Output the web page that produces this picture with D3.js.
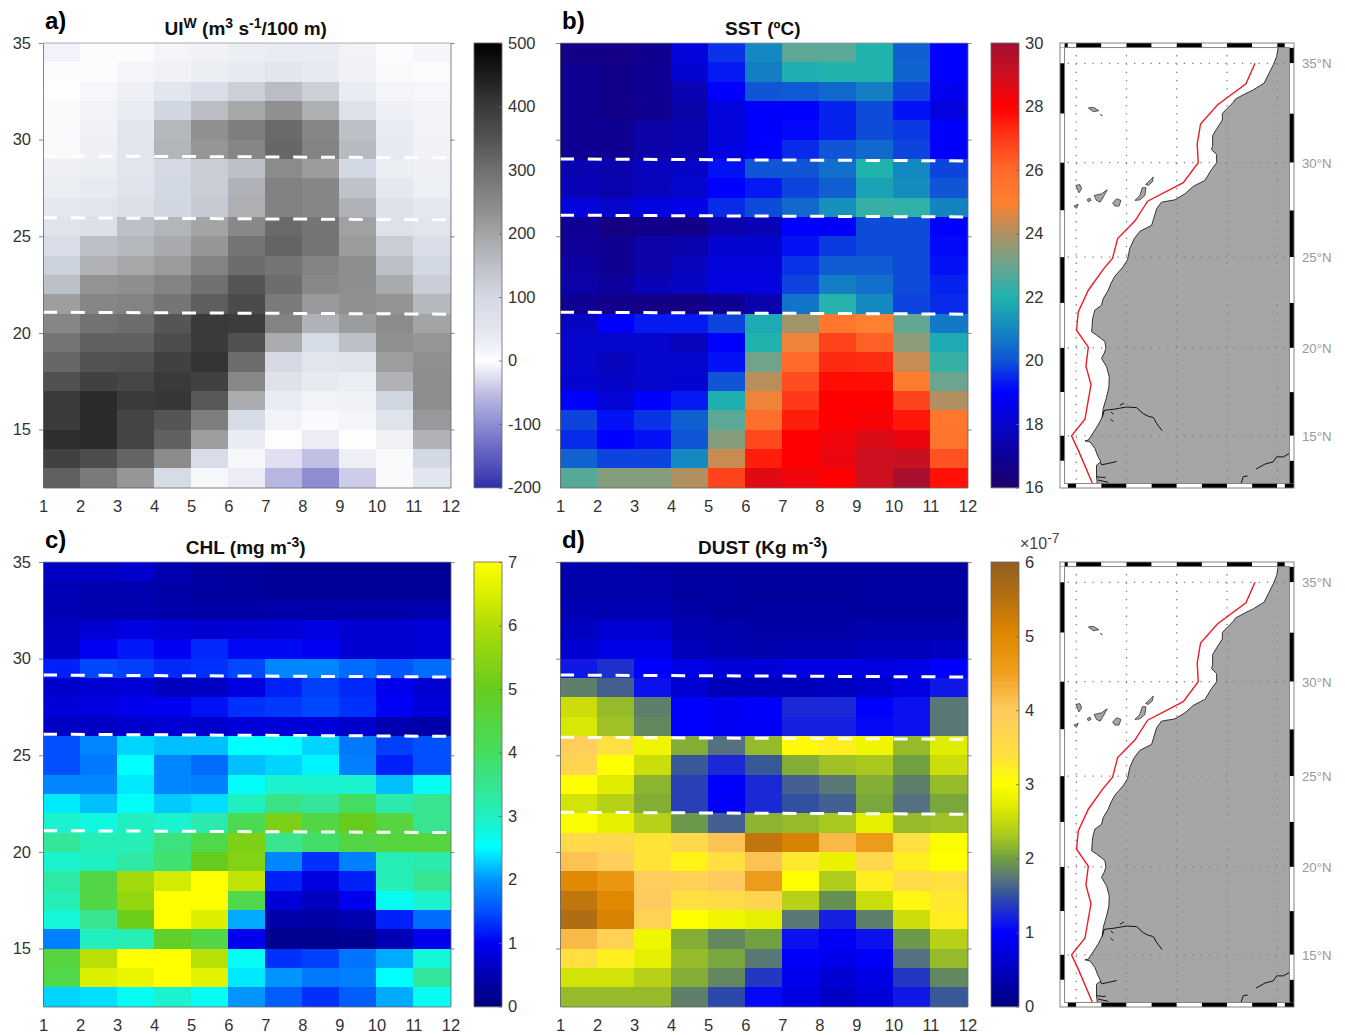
<!DOCTYPE html>
<html>
<head>
<meta charset="utf-8">
<title>Upwelling, SST, CHL and dust</title>
<script src="https://cdn.jsdelivr.net/npm/d3@7"></script>
<style>
  html, body { margin: 0; padding: 0; background: #fff; }
  svg { display: block; font-family: "Liberation Sans", Arial, sans-serif; }
  .axis text { font-size: 16.5px; fill: #333; }
  .axis path, .axis line { stroke: #666; stroke-width: 0.8; }
  .title { font-size: 19px; font-weight: bold; fill: #111; }
  .letter { font-size: 24px; font-weight: bold; fill: #000; }
</style>
</head>
<body>
<svg id="chart" width="1345" height="1035"></svg>
<script>
// months on the x axis (cell edges) and latitudes on the y axis (cell edges)
var months = [1, 2, 3, 4, 5, 6, 7, 8, 9, 10, 11, 12];
var lats = [35, 34, 33, 32, 31, 30, 29, 28, 27, 26, 25, 24, 23, 22, 21, 20, 19, 18, 17, 16, 15, 14, 13, 12];
var latTicks = [35, 30, 25, 20, 15];

// one row per degree, north to south
var uiw = [
  [-10, 5, 5, 15, 20, 30, 35, 35, 18, 5, -8],
  [5, 5, 15, 20, 30, 40, 50, 40, 20, 8, 5],
  [3, 12, 25, 50, 85, 120, 155, 120, 35, 15, 12],
  [8, 18, 35, 105, 155, 195, 235, 180, 70, 25, 18],
  [8, 20, 50, 165, 235, 270, 310, 255, 150, 35, 18],
  [10, 25, 55, 170, 225, 255, 315, 260, 160, 40, 20],
  [25, 30, 55, 95, 125, 150, 245, 215, 100, 30, 25],
  [30, 40, 60, 100, 125, 175, 265, 255, 145, 45, 28],
  [45, 55, 75, 105, 130, 180, 265, 255, 175, 65, 45],
  [60, 75, 150, 170, 200, 250, 310, 290, 205, 70, 55],
  [85, 150, 165, 190, 225, 290, 320, 290, 215, 125, 80],
  [115, 175, 195, 215, 260, 305, 290, 260, 240, 150, 100],
  [150, 230, 240, 260, 300, 345, 305, 250, 240, 190, 125],
  [210, 255, 260, 290, 330, 365, 280, 220, 235, 230, 165],
  [255, 295, 305, 345, 400, 395, 260, 175, 215, 245, 200],
  [290, 325, 325, 360, 400, 355, 185, 90, 150, 235, 225],
  [315, 350, 355, 385, 410, 305, 95, 55, 60, 210, 235],
  [355, 385, 375, 400, 385, 250, 65, 40, 30, 175, 240],
  [400, 425, 400, 405, 340, 185, 35, 18, 20, 105, 240],
  [400, 425, 380, 345, 270, 90, 18, 8, 15, 60, 220],
  [420, 425, 380, 325, 210, 35, 3, -15, 2, 20, 175],
  [385, 360, 320, 245, 85, 12, -25, -50, -13, 8, 100],
  [325, 280, 225, 90, 12, -15, -60, -100, -40, -4, 50]
];
var sst = [
  [16.6, 16.6, 16.8, 18.3, 19.6, 21, 22.8, 22.8, 22, 20.2, 19],
  [16.9, 16.7, 16.9, 18.1, 19.3, 20.8, 21.9, 22, 22, 20.3, 19],
  [16.9, 16.7, 16.9, 17.5, 19, 20, 20.1, 20.4, 20.8, 19.8, 18.7],
  [16.9, 16.7, 16.8, 17.3, 18.3, 19, 19, 19.4, 19.9, 19.2, 18.4],
  [16.9, 16.9, 17.3, 17.5, 18.3, 19, 19.1, 19.4, 19.9, 19.7, 19],
  [16.9, 16.9, 17.3, 17.5, 18.4, 19, 19.5, 20, 20.4, 19.8, 18.9],
  [17.5, 17.4, 17.7, 17.9, 19.2, 20, 20, 20.5, 22, 21, 19.8],
  [17.6, 17.4, 17.7, 18, 19, 19.3, 19.8, 20.2, 21.6, 21.1, 20],
  [18.3, 18, 18.4, 18.5, 19.5, 19.9, 20.4, 21.2, 22.3, 22.2, 20.9],
  [16.9, 16.5, 16.7, 16.7, 17.4, 17.6, 19, 18.9, 19.9, 19.9, 19],
  [17, 16.9, 17.3, 17.4, 18.1, 18.1, 19.2, 19.7, 19.9, 19.9, 19.1],
  [17.2, 16.9, 17.3, 17.7, 18.3, 18.3, 19.6, 20.1, 20.1, 19.9, 19.2],
  [17.3, 17.1, 17.6, 17.8, 18.4, 18.4, 19.8, 20.8, 20.5, 19.9, 19.4],
  [16.9, 16.7, 16.6, 16.6, 16.9, 17.4, 20.6, 22.1, 21, 19.8, 19.5],
  [17.8, 19, 19.3, 19.3, 19.8, 21.8, 23.8, 25.4, 25, 22.9, 20.7],
  [18, 18, 18, 17.7, 19, 22, 24.8, 26.8, 26.2, 23.5, 21.8],
  [18, 17.7, 18, 18, 19.2, 23.1, 26, 27.3, 27.2, 24.3, 22.3],
  [18.1, 17.9, 18, 18.1, 20, 24.1, 26.6, 27.8, 27.8, 25.2, 23],
  [19, 18.2, 19, 19.3, 21.9, 24.8, 27, 28, 28, 26.8, 24],
  [19.8, 19.2, 19.6, 20.2, 22.8, 25.8, 27.5, 28, 28.2, 27.6, 25.4],
  [19.5, 19, 19.2, 20, 23.4, 26.7, 28, 28.3, 28.7, 28.4, 25.5],
  [20.3, 19.8, 19.8, 21, 24.3, 27.5, 28, 28.4, 29, 29.1, 26.5],
  [22.7, 23.4, 23.4, 24, 26.8, 28.6, 28.3, 28, 29, 29.8, 27.7]
];
var chl = [
  [0.65, 0.65, 0.7, 0.5, 0.35, 0.3, 0.25, 0.25, 0.25, 0.25, 0.25],
  [0.55, 0.5, 0.5, 0.4, 0.35, 0.3, 0.25, 0.25, 0.25, 0.25, 0.25],
  [0.55, 0.5, 0.5, 0.45, 0.4, 0.4, 0.45, 0.45, 0.45, 0.45, 0.5],
  [0.6, 0.75, 0.85, 0.8, 0.75, 0.75, 0.8, 0.85, 0.75, 0.75, 0.8],
  [0.65, 1, 1.15, 1, 1.25, 1.05, 1.05, 1, 0.75, 0.75, 0.8],
  [1.2, 1.45, 1.4, 1.25, 1.3, 1.45, 1.9, 1.9, 1.7, 1.55, 1.7],
  [0.7, 0.75, 0.8, 0.6, 0.65, 0.85, 1.2, 1.4, 1.25, 0.95, 0.75],
  [0.8, 0.85, 0.95, 0.95, 1.1, 1.3, 1.35, 1.45, 1.3, 1, 0.8],
  [0.65, 0.65, 0.7, 0.75, 0.7, 0.8, 0.8, 0.8, 0.7, 0.5, 0.45],
  [1.5, 1.9, 2.3, 2.2, 2.2, 2.5, 2.5, 2.3, 1.8, 1.4, 1.5],
  [1.5, 1.8, 2.5, 1.9, 1.7, 2.2, 2.3, 2.45, 1.85, 1.2, 1.5],
  [1.9, 1.9, 2.4, 1.9, 1.85, 2.55, 2.9, 2.9, 2.9, 2.2, 2.6],
  [2.4, 2.2, 2.55, 2.25, 2.35, 3, 3.6, 3.4, 4, 3.2, 3.5],
  [2.9, 2.75, 3, 2.9, 3.2, 4.2, 5.3, 4.4, 5, 4.5, 3.5],
  [3.4, 3.1, 3.1, 3.7, 4.3, 5.3, 3.5, 3.9, 4.4, 4.5, 4.5],
  [2.9, 3, 3.3, 3.8, 5, 5.4, 1.9, 1.3, 1.85, 3.1, 3.2],
  [3.3, 4.4, 5.8, 6.4, 7, 6.2, 1.2, 0.85, 1.2, 3.1, 3.5],
  [3.1, 4.4, 5.6, 7, 7, 4.3, 0.8, 0.6, 0.95, 2.6, 2.9],
  [2.8, 3.5, 5.1, 7, 6.5, 2.1, 0.45, 0.4, 0.5, 1.2, 1.7],
  [1.85, 3, 3.1, 4.8, 4.4, 0.95, 0.15, 0.15, 0.2, 0.55, 0.95],
  [4.5, 6.1, 7, 7, 6.1, 2.6, 1.3, 1.4, 1.75, 2.1, 2.8],
  [4.3, 6.5, 6.7, 7, 6.6, 2.4, 2, 1.8, 1.85, 2.5, 3.4],
  [2.3, 2.35, 2.6, 2.9, 2.6, 2, 1.6, 1.3, 1.6, 2.1, 2.6]
];
var dust = [
  [0.35, 0.35, 0.3, 0.25, 0.25, 0.25, 0.25, 0.25, 0.25, 0.25, 0.25],
  [0.35, 0.35, 0.35, 0.25, 0.25, 0.2, 0.2, 0.2, 0.25, 0.25, 0.25],
  [0.4, 0.4, 0.4, 0.3, 0.25, 0.25, 0.25, 0.25, 0.25, 0.25, 0.25],
  [0.5, 0.65, 0.65, 0.4, 0.35, 0.3, 0.3, 0.3, 0.35, 0.35, 0.35],
  [0.65, 0.8, 0.8, 0.45, 0.4, 0.35, 0.4, 0.4, 0.45, 0.45, 0.5],
  [1.15, 1.3, 1, 0.8, 0.7, 0.7, 0.75, 0.75, 0.75, 0.8, 1],
  [1.8, 1.6, 1.1, 0.65, 0.45, 0.45, 0.45, 0.5, 0.6, 0.75, 1.15],
  [2.55, 2.2, 1.8, 1, 0.9, 1, 1.25, 1.25, 1, 1.1, 1.75],
  [2.65, 2.25, 1.85, 1, 0.9, 0.95, 1.2, 1.2, 1.05, 1.1, 1.75],
  [3.9, 3.4, 2.85, 2.1, 1.7, 2.2, 3.05, 3.2, 2.85, 2.2, 2.7],
  [3.7, 3, 2.55, 1.55, 1.25, 1.55, 2.1, 2.25, 2.3, 2, 2.55],
  [3, 2.7, 2.15, 1.4, 1, 1.25, 1.6, 1.75, 2.1, 1.8, 2.2],
  [2.6, 2.4, 2.1, 1.4, 0.95, 1.25, 1.5, 1.6, 2.05, 1.7, 2.05],
  [2.95, 2.75, 2.4, 1.95, 1.6, 2.15, 2.2, 2.3, 2.75, 2.2, 2.25],
  [3.6, 3.6, 3.35, 3.6, 4.1, 5.4, 5.1, 4.2, 4.6, 3.4, 2.95],
  [4.1, 3.9, 3.35, 3.15, 3.4, 4.1, 3.3, 2.8, 3.6, 3.2, 3],
  [5, 4.7, 3.95, 3.8, 4, 4.6, 3, 2.35, 3.2, 3.5, 3.4],
  [5.4, 5, 4, 3.4, 3.5, 3.7, 2.4, 1.9, 2.55, 3.1, 3.3],
  [5.6, 5.1, 3.8, 3, 2.85, 2.75, 1.75, 1.2, 1.8, 2.55, 3.2],
  [4.2, 3.8, 2.85, 2.1, 1.85, 2, 1.1, 0.95, 1.1, 1.95, 2.4],
  [3.4, 3.2, 2.75, 2.2, 2.05, 1.75, 0.95, 0.85, 0.95, 1.7, 2.2],
  [2.6, 2.6, 2.4, 2.1, 1.85, 1.35, 0.85, 0.65, 0.8, 1.35, 1.85],
  [2.2, 2.2, 2.2, 1.8, 1.45, 1.05, 0.75, 0.55, 0.7, 1.15, 1.55]
];

// colormaps: value stops and their colours
var uiwStops = [-200, -100, -50, 0, 20, 50, 100, 150, 200, 250, 300, 350, 400, 450, 500];
var uiwColors = ["#3030ac", "#8d8dd4", "#c0c0e4", "#ffffff", "#f0f2f6", "#e2e6ee", "#d3d9e4", "#bcc0c7", "#a3a4a6", "#888888", "#707070", "#525252", "#3a3a3a", "#1c1c1c", "#000000"];
var sstStops = [16, 17, 18, 19, 20, 21, 22, 23, 24, 25, 26, 27, 28, 29, 30];
var sstColors = ["#1c006e", "#0e0098", "#0505cc", "#0000ff", "#0f55d5", "#1488c0", "#20b3ae", "#6aa590", "#b09060", "#ff8030", "#ff6a2a", "#ff3a18", "#ff0000", "#cc1020", "#a01030"];
var chlStops = [0, 0.5, 1, 1.5, 2, 2.5, 3, 3.5, 4, 5, 6, 6.5, 7];
var chlColors = ["#00007f", "#0000b0", "#0000f5", "#0050ff", "#0095ff", "#00ffff", "#20f0c0", "#38e490", "#45dd60", "#66cc1c", "#b0dc08", "#dcef00", "#ffff00"];
var dustStops = [0, 0.5, 1, 1.2, 1.5, 1.7, 2, 2.3, 2.7, 3, 3.4, 4, 4.5, 5, 5.5, 6];
var dustColors = ["#000080", "#0000c0", "#0000ff", "#1520e0", "#3050a0", "#557080", "#70a040", "#a8c820", "#e0ec00", "#ffff00", "#ffe040", "#ffca60", "#f0a020", "#e08800", "#b87010", "#906020"];

var uiwTicks = [-200, -100, 0, 100, 200, 300, 400, 500];
var sstTicks = [16, 18, 20, 22, 24, 26, 28, 30];
var chlTicks = [0, 1, 2, 3, 4, 5, 6, 7];
var dustTicks = [0, 1, 2, 3, 4, 5, 6];

// dashed region limits, latitude at month 1 and near month 12
var uiwLimits = [[29.16, 29.06], [25.96, 25.85], [21.07, 20.97]];
var sstLimits = [[29.0, 28.9], [26.09, 26.0], [21.07, 20.97]];
var chlLimits = [[29.15, 29.05], [26.09, 25.98], [21.1, 21.0]];
var dustLimits = [[29.15, 29.05], [25.93, 25.83], [22.05, 21.95]];

// map data as [lon, lat]
var coast = [[-5.94, 36.2], [-5.94, 35.79], [-6.04, 35.33], [-6.24, 34.92], [-6.5, 34.5], [-6.78, 34.03], [-7.43, 33.69], [-7.93, 33.49], [-8.49, 33.24], [-8.63, 33.07], [-9.02, 32.73], [-9.28, 32.52], [-9.28, 32.18], [-9.62, 31.73], [-9.86, 31.39], [-9.86, 30.89], [-9.92, 30.67], [-9.62, 30.42], [-9.62, 30], [-9.92, 29.65], [-10.32, 29.08], [-11.01, 28.77], [-11.51, 28.38], [-12.11, 28.06], [-12.91, 27.94], [-13.2, 27.59], [-13.5, 26.71], [-14.2, 26.39], [-14.54, 26], [-14.8, 25.48], [-14.94, 24.86], [-15.19, 24.49], [-15.69, 23.97], [-15.93, 23.57], [-16.09, 23.2], [-16.39, 22.74], [-16.49, 22.37], [-16.89, 22.1], [-17.02, 21.64], [-17.08, 20.9], [-16.79, 20.72], [-16.29, 20.36], [-16.23, 19.98], [-16.33, 19.7], [-16.49, 19.41], [-16.19, 18.94], [-16.03, 18.37], [-16.05, 17.79], [-16.19, 17.22], [-16.39, 16.56], [-16.45, 16.08], [-16.69, 15.62], [-17.08, 15.04], [-17.28, 14.75], [-17.48, 14.71], [-17.18, 14.65], [-16.89, 14.27], [-16.69, 13.78], [-16.53, 13.49], [-16.79, 13.3], [-16.79, 12.63], [-16.73, 12.14], [-16.7, 11.5], [-4.5, 11.5], [-4.5, 36.2]];
var islands = [
  [[-17.28, 32.79], [-16.98, 32.82], [-16.65, 32.65], [-16.98, 32.6]],
  [[-13.86, 28.87], [-13.6, 29.08], [-13.4, 29.26], [-13.46, 29], [-13.7, 28.82]],
  [[-14.5, 28.03], [-14.2, 28.29], [-14.06, 28.7], [-13.84, 28.7], [-13.9, 28.29], [-14.2, 28.06]],
  [[-15.83, 27.89], [-15.59, 28.12], [-15.33, 28.03], [-15.45, 27.73], [-15.69, 27.73]],
  [[-16.93, 28.29], [-16.49, 28.38], [-16.15, 28.59], [-16.39, 28.2], [-16.57, 27.94], [-16.79, 28.03]],
  [[-17.34, 28.08], [-17.18, 28.15], [-17.12, 28.03], [-17.28, 27.96]],
  [[-18.02, 28.82], [-17.78, 28.86], [-17.68, 28.64], [-17.84, 28.43]],
  [[-18.14, 27.73], [-17.88, 27.82], [-17.98, 27.62]]
];
var rivers = [
  [[-16.45, 16.05], [-16.33, 16.46], [-15.79, 16.52], [-15, 16.65], [-14.4, 16.62], [-14, 16.27], [-13.7, 16.12], [-13.4, 16.05], [-13.2, 15.71], [-12.87, 15.29]],
  [[-15.39, 16.75], [-15.15, 16.88]],
  [[-15.93, 16.37], [-15.79, 16.24]],
  [[-15.95, 15.95], [-15.79, 15.83]],
  [[-16.57, 13.49], [-16.49, 13.32], [-16.09, 13.4], [-15.59, 13.51]],
  [[-16.79, 12.63], [-16.49, 12.59], [-16.25, 12.59]],
  [[-16.69, 12.43], [-16.09, 12.3]],
  [[-7.27, 13.07], [-6.74, 13.36], [-6.24, 13.49], [-6.04, 13.78], [-5.64, 13.78], [-5.28, 13.98]],
  [[-8.17, 12.22], [-8.03, 12.63], [-7.77, 12.67]],
  [[-16.55, 32.48], [-16.45, 32.38]]
];
var transect = [[-7.33, 35], [-7.87, 33.99], [-9.56, 32.95], [-10.58, 31.98], [-10.78, 30.97], [-10.72, 30], [-11.61, 28.96], [-13.74, 27.99], [-14.5, 26.94], [-15.53, 26], [-15.83, 24.95], [-16.39, 24.34], [-17.28, 23.2], [-17.88, 22], [-17.98, 20.99], [-17.28, 20.04], [-17.42, 18.97], [-17.12, 17.93], [-17.48, 15.95], [-18.28, 15], [-17.88, 14.17], [-16.93, 12]];
var gridLons = [-18, -15, -12, -9, -6];
var gridLats = [35, 30, 25, 20, 15];
var frameLonsTop = [-18.7, -18.5, -18, -16.5, -15, -13.5, -12, -10.5, -9, -7.5, -6, -5.55, -5];
var frameLats = [36, 35.75, 35, 32.5, 30, 27.5, 25, 22.5, 20, 17.5, 15, 13.55, 12];

var svg = d3.select("#chart");

var panels = [
  {letter: "a)", x0: 43, y0: 43, data: uiw, stops: uiwStops, colors: uiwColors, ticks: uiwTicks, limits: uiwLimits, labels: true, title: [["UI"], ["W", 1], [" (m"], ["3", 1], [" s"], ["-1", 1], ["/100 m)"]]},
  {letter: "b)", x0: 560, y0: 43, data: sst, stops: sstStops, colors: sstColors, ticks: sstTicks, limits: sstLimits, labels: false, title: [["SST (ºC)"]]},
  {letter: "c)", x0: 43, y0: 562, data: chl, stops: chlStops, colors: chlColors, ticks: chlTicks, limits: chlLimits, labels: true, title: [["CHL (mg m"], ["-3", 1], [")"]]},
  {letter: "d)", x0: 560, y0: 562, data: dust, stops: dustStops, colors: dustColors, ticks: dustTicks, limits: dustLimits, labels: false, title: [["DUST (Kg m"], ["-3", 1], [")"]]}
];

var w = 407.5, h = 444.5;

panels.forEach(drawPanel);
drawMap(43);
drawMap(562);

function drawPanel(p) {
    var g = svg.append("g").attr("transform", "translate(" + p.x0 + "," + p.y0 + ")");
    var x = d3.scaleLinear().domain([1, 12]).range([0, w]);
    var y = d3.scaleLinear().domain([35, 12]).range([0, h]);
    var color = d3.scaleLinear().domain(p.stops).range(p.colors).clamp(true);

    // cells
    p.data.forEach(function (row, r) {
        g.selectAll(".r" + r)
            .data(row)
            .enter()
            .append("rect")
            .attr("x", function (d, i) { return x(months[i]); })
            .attr("y", y(lats[r]))
            .attr("width", function (d, i) { return x(months[i + 1]) - x(months[i]); })
            .attr("height", y(lats[r + 1]) - y(lats[r]))
            .attr("shape-rendering", "crispEdges")
            .attr("fill", function (d) { return color(d); });
    });

    // dashed limits
    var limitLine = d3.line().x(function (d) { return x(d[0]); }).y(function (d) { return y(d[1]); });
    p.limits.forEach(function (l) {
        g.append("path")
            .attr("d", limitLine([[1, l[0]], [11.93, l[1]]]))
            .attr("fill", "none")
            .attr("stroke", "#fff")
            .attr("stroke-width", 3)
            .attr("stroke-dasharray", "14 13.8");
    });

    // axes
    g.append("g").attr("class", "axis")
        .attr("transform", "translate(0," + h + ")")
        .call(d3.axisBottom(x).tickValues(months).tickFormat(String).tickSize(0).tickPadding(13));
    g.append("g").attr("class", "axis")
        .call(d3.axisLeft(y).tickValues(latTicks).tickSizeOuter(0).tickSizeInner(4).tickPadding(8)
            .tickFormat(p.labels ? String : ""));
    g.append("g").attr("class", "axis")
        .attr("transform", "translate(" + w + ",0)")
        .call(d3.axisRight(y).tickValues(latTicks).tickSizeOuter(0).tickSizeInner(4).tickFormat(""));
    g.append("line").attr("x1", 0).attr("x2", w).attr("y1", 0).attr("y2", 0)
        .attr("stroke", "#999").attr("stroke-width", 0.8);

    // title
    var title = g.append("text").attr("class", "title")
        .attr("x", w / 2 - 1).attr("y", -8).attr("text-anchor", "middle");
    p.title.forEach(function (part, i) {
        var prevSup = i > 0 && p.title[i - 1][1];
        var span = title.append("tspan").text(part[0]);
        if (part[1]) span.attr("dy", -7).style("font-size", "14px");
        else if (prevSup) span.attr("dy", 7);
    });
    g.append("text").attr("class", "letter").attr("x", 2).attr("y", -14).text(p.letter);

    // colorbar
    var barX = w + 23.5, barW = 28;
    var bar = g.append("g").attr("transform", "translate(" + barX + ",0)");
    var barScale = d3.scaleLinear().domain([p.stops[0], p.stops[p.stops.length - 1]]).range([h, 0]);
    d3.range(0, h, 1).forEach(function (py) {
        bar.append("rect").attr("x", 0).attr("y", py).attr("width", barW).attr("height", 1.2)
            .attr("fill", color(barScale.invert(py + 0.5)));
    });
    bar.append("rect").attr("width", barW).attr("height", h)
        .attr("fill", "none").attr("stroke", "#666").attr("stroke-width", 0.8);
    var barAxis = bar.append("g").attr("class", "axis")
        .attr("transform", "translate(" + barW + ",0)")
        .call(d3.axisRight(barScale).tickValues(p.ticks).tickSizeOuter(0).tickSizeInner(-3).tickPadding(6).tickFormat(String));
    barAxis.select(".domain").remove();

    if (p === panels[3]) {
        var mult = bar.append("text").attr("x", barW + 1).attr("y", -13)
            .style("font-size", "16px").style("fill", "#444");
        mult.append("tspan").text("×10");
        mult.append("tspan").attr("dy", -6).style("font-size", "14px").text("-7");
    }
}

function drawMap(top) {
    var mx0 = 1060, mx1 = 1294, inset = 4.6;
    var my1 = top + 445;
    var merc = d3.geoMercator().scale(960).translate([0, 0]);
    var ref = merc([-6, 35]);
    merc.translate([1277.3 - ref[0], top + 20.3 - ref[1]]);
    var g = svg.append("g");
    var clipId = "clip" + top;
    svg.append("clipPath").attr("id", clipId).append("rect")
        .attr("x", mx0 + inset).attr("y", top + inset)
        .attr("width", mx1 - mx0 - 2 * inset).attr("height", my1 - top - 2 * inset);

    var line = d3.line().x(function (d) { return merc(d)[0]; }).y(function (d) { return merc(d)[1]; });
    var inner = g.append("g").attr("clip-path", "url(#" + clipId + ")");

    inner.append("path").attr("d", line(coast) + "Z")
        .attr("fill", "#a6a6a6").attr("stroke", "#333").attr("stroke-width", 1);
    inner.selectAll(".island").data(islands).enter().append("path")
        .attr("d", function (d) { return line(d) + "Z"; })
        .attr("fill", "#a6a6a6").attr("stroke", "#333").attr("stroke-width", 0.8);

    // dotted graticule
    gridLons.forEach(function (lon) {
        inner.append("path").attr("d", line([[lon, 37], [lon, 11]]))
            .attr("stroke", "#808080").attr("stroke-width", 1.3).attr("stroke-dasharray", "1.3 7").attr("fill", "none");
    });
    gridLats.forEach(function (lat) {
        inner.append("path").attr("d", line([[-20, lat], [-4, lat]]))
            .attr("stroke", "#808080").attr("stroke-width", 1.3).attr("stroke-dasharray", "1.3 7").attr("fill", "none");
    });

    inner.selectAll(".river").data(rivers).enter().append("path")
        .attr("d", function (d) { return line(d); })
        .attr("fill", "none").attr("stroke", "#111").attr("stroke-width", 1);
    inner.append("path").attr("d", line(transect))
        .attr("fill", "none").attr("stroke", "#ee1c25").attr("stroke-width", 1.4);

    // fancy frame, black and white segments
    for (var i = 0; i < frameLonsTop.length - 1; i++) {
        var xa = merc([frameLonsTop[i], 20])[0], xb = merc([frameLonsTop[i + 1], 20])[0];
        xa = Math.max(xa, mx0 + inset); xb = Math.min(xb, mx1 - inset);
        if (i === frameLonsTop.length - 2) xb = mx1;
        g.append("rect").attr("x", xa).attr("y", top).attr("width", xb - xa).attr("height", inset)
            .attr("fill", i % 2 == 0 ? "#000" : "#fff");
        g.append("rect").attr("x", xa).attr("y", my1 - inset).attr("width", xb - xa).attr("height", inset)
            .attr("fill", i % 2 == 0 ? "#fff" : "#000");
    }
    for (var j = 0; j < frameLats.length - 1; j++) {
        var ya = Math.max(merc([-10, frameLats[j]])[1], top + inset);
        var yb = Math.min(merc([-10, frameLats[j + 1]])[1], my1 - inset);
        g.append("rect").attr("x", mx0).attr("y", ya).attr("width", inset).attr("height", yb - ya)
            .attr("fill", j % 2 == 0 ? "#000" : "#fff");
        g.append("rect").attr("x", mx1 - inset).attr("y", ya).attr("width", inset).attr("height", yb - ya)
            .attr("fill", j % 2 == 0 ? "#fff" : "#000");
    }
    g.append("rect").attr("x", mx0).attr("y", top).attr("width", mx1 - mx0).attr("height", my1 - top)
        .attr("fill", "none").attr("stroke", "#777").attr("stroke-width", 0.9);
    g.append("rect").attr("x", mx0 + inset).attr("y", top + inset).attr("width", mx1 - mx0 - 2 * inset).attr("height", my1 - top - 2 * inset)
        .attr("fill", "none").attr("stroke", "#777").attr("stroke-width", 0.9);

    // latitude labels
    g.selectAll(".latlab").data(gridLats).enter().append("text")
        .attr("x", 1302)
        .attr("y", function (d) { return merc([-10, d])[1] + 5; })
        .style("font-size", "13.2px").style("fill", "#999")
        .text(function (d) { return d + "°N"; });
}
</script>
</body>
</html>
